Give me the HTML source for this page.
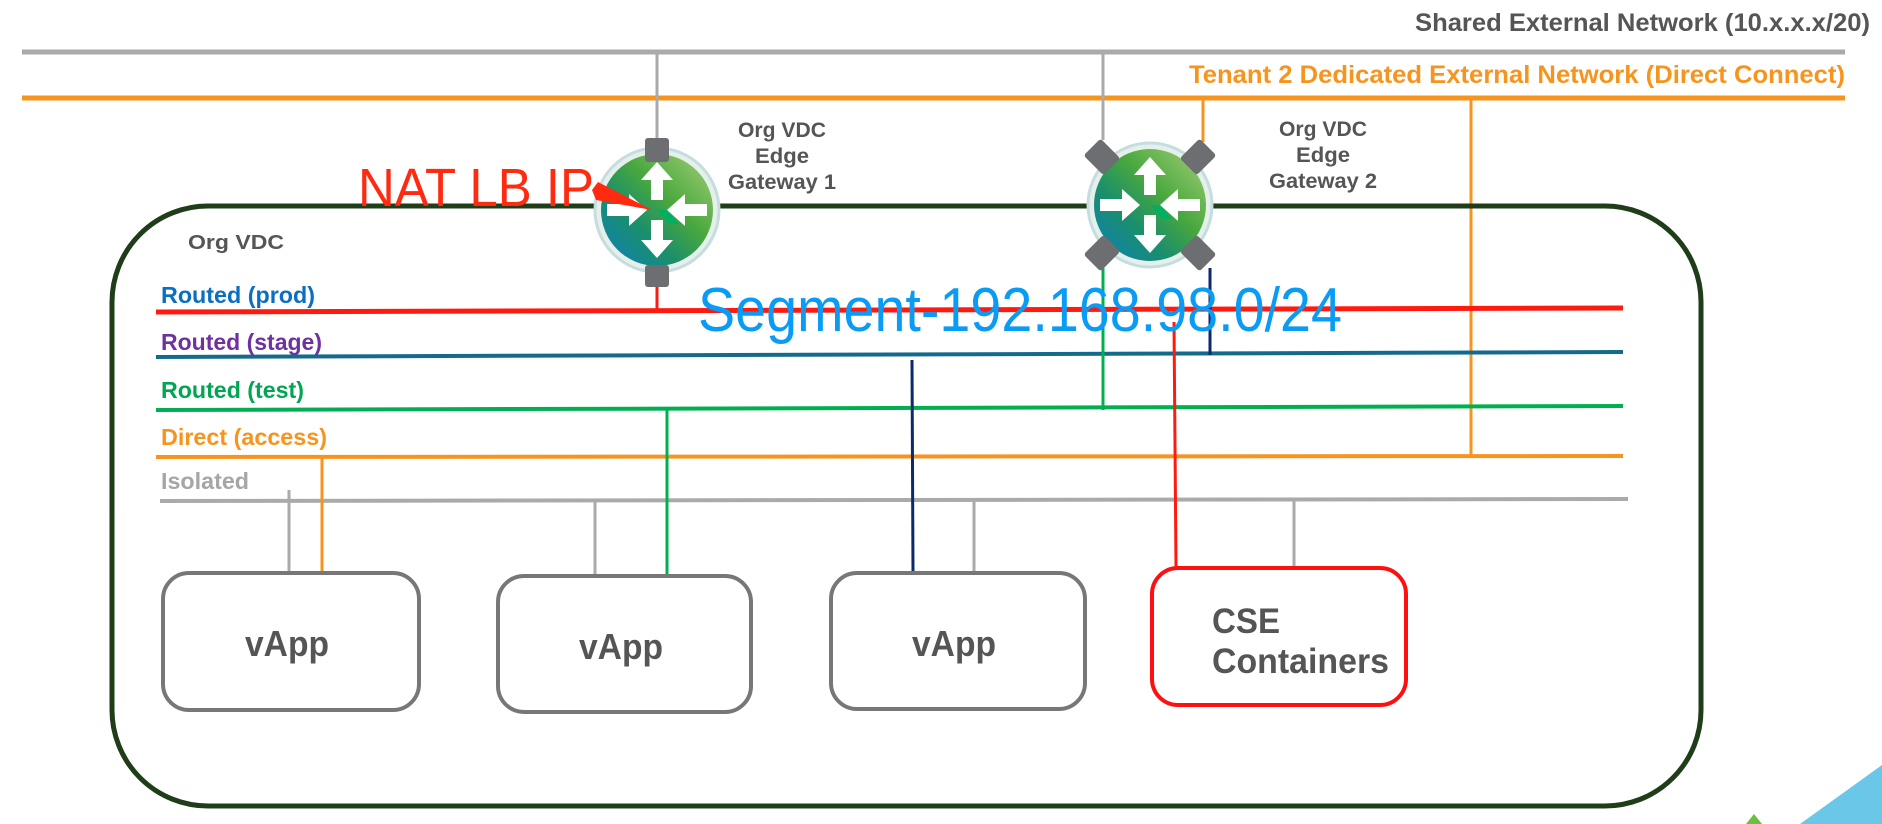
<!DOCTYPE html>
<html><head><meta charset="utf-8"><style>
html,body{margin:0;padding:0;background:#fff;}
svg{display:block;}
text{font-family:"Liberation Sans",Arial,sans-serif;}
</style></head><body>
<svg width="1882" height="824" viewBox="0 0 1882 824" xmlns="http://www.w3.org/2000/svg">
<defs>
<linearGradient id="rg" x1="0" y1="1" x2="1" y2="0">
<stop offset="0" stop-color="#0a7fc0"/><stop offset="0.35" stop-color="#1b8f6a"/><stop offset="0.6" stop-color="#4aa83e"/><stop offset="1" stop-color="#a6d07a"/>
</linearGradient>
<g id="arrows">
<circle r="62" fill="#e6f0ea" stroke="#c5dde0" stroke-width="3"/>
<circle r="56" fill="url(#rg)"/>
<path d="M0,-48 L-16,-30 L-6,-30 L-6,-10 L6,-10 L6,-30 L16,-30Z" fill="#fff"/>
<path d="M0,48 L-16,30 L-6,30 L-6,10 L6,10 L6,30 L16,30Z" fill="#fff"/>
<path d="M10,0 L28,-16 L28,-6 L50,-6 L50,6 L28,6 L28,16Z" fill="#fff"/>
<path d="M-10,0 L-28,-16 L-28,-6 L-50,-6 L-50,6 L-28,6 L-28,16Z" fill="#fff"/>
<path d="M0,0 L10,0 L22,14 L12,14Z" fill="#00b060"/>
</g>
</defs>

<text x="1870" y="31" font-size="25" font-weight="bold" fill="#555" text-anchor="end" textLength="455" lengthAdjust="spacingAndGlyphs">Shared External Network (10.x.x.x/20)</text>
<line x1="22" y1="52" x2="1845" y2="52" stroke="#aaa" stroke-width="5"/>
<text x="1845" y="83" font-size="25" font-weight="bold" fill="#f7941d" text-anchor="end" textLength="656" lengthAdjust="spacingAndGlyphs">Tenant 2 Dedicated External Network (Direct Connect)</text>
<line x1="22" y1="98" x2="1845" y2="98" stroke="#f7941d" stroke-width="5"/>

<line x1="657" y1="52" x2="657" y2="140" stroke="#aaa" stroke-width="3"/>
<line x1="1103" y1="52" x2="1103" y2="140" stroke="#aaa" stroke-width="3"/>
<line x1="1203" y1="98" x2="1203" y2="142" stroke="#f7941d" stroke-width="3"/>
<line x1="1471" y1="98" x2="1471" y2="457" stroke="#f7941d" stroke-width="3"/>

<rect x="112" y="206" width="1589" height="600" rx="96" ry="96" fill="none" stroke="#1e3d18" stroke-width="5"/>
<text x="188" y="249" font-size="20" font-weight="bold" fill="#555" textLength="96" lengthAdjust="spacingAndGlyphs">Org VDC</text>

<text x="161" y="303" font-size="23" font-weight="bold" fill="#0a6fc2" textLength="154" lengthAdjust="spacingAndGlyphs">Routed (prod)</text>
<line x1="156" y1="312" x2="1623" y2="308" stroke="#ff1a10" stroke-width="5"/>
<text x="161" y="350" font-size="23" font-weight="bold" fill="#7030a0" textLength="161" lengthAdjust="spacingAndGlyphs">Routed (stage)</text>
<line x1="156" y1="357" x2="1623" y2="352" stroke="#146a8c" stroke-width="4"/>
<text x="161" y="398" font-size="23" font-weight="bold" fill="#00a651" textLength="143" lengthAdjust="spacingAndGlyphs">Routed (test)</text>
<line x1="156" y1="410" x2="1623" y2="406" stroke="#00b050" stroke-width="4"/>
<text x="161" y="445" font-size="23" font-weight="bold" fill="#f7941d" textLength="166" lengthAdjust="spacingAndGlyphs">Direct (access)</text>
<line x1="156" y1="457" x2="1623" y2="456" stroke="#f7941d" stroke-width="4"/>
<text x="161" y="489" font-size="23" font-weight="bold" fill="#a6a6a6" textLength="88" lengthAdjust="spacingAndGlyphs">Isolated</text>
<line x1="160" y1="501" x2="1628" y2="499" stroke="#aaa" stroke-width="4"/>

<line x1="657" y1="276" x2="657" y2="311" stroke="#ff1a10" stroke-width="3"/>
<line x1="1103" y1="268" x2="1103" y2="410" stroke="#00b050" stroke-width="3"/>
<line x1="1210" y1="268" x2="1210" y2="355" stroke="#0b2a6b" stroke-width="3"/>
<line x1="1174" y1="322" x2="1176" y2="567" stroke="#ff1a10" stroke-width="3"/>
<line x1="912" y1="360" x2="913" y2="572" stroke="#0b2a6b" stroke-width="3"/>
<line x1="667" y1="409" x2="667" y2="575" stroke="#00b050" stroke-width="3"/>
<line x1="322" y1="457" x2="322" y2="572" stroke="#f7941d" stroke-width="3"/>
<line x1="289" y1="490" x2="289" y2="572" stroke="#aaa" stroke-width="3"/>
<line x1="595" y1="500" x2="595" y2="575" stroke="#aaa" stroke-width="3"/>
<line x1="974" y1="500" x2="974" y2="572" stroke="#aaa" stroke-width="3"/>
<line x1="1294" y1="499" x2="1294" y2="568" stroke="#aaa" stroke-width="3"/>

<g transform="translate(657,210)">
<use href="#arrows"/>
<rect x="-12" y="-72" width="24" height="24" rx="3" fill="#6d6e71"/>
<rect x="-12" y="55" width="24" height="22" rx="3" fill="#6d6e71"/>
</g>
<g transform="translate(1150,205)">
<use href="#arrows"/>
<rect x="-12" y="-14" width="24" height="28" rx="3" fill="#6d6e71" transform="rotate(45) translate(0,-68)"/>
<rect x="-12" y="-14" width="24" height="28" rx="3" fill="#6d6e71" transform="rotate(-45) translate(0,-68)"/>
<rect x="-12" y="-14" width="24" height="28" rx="3" fill="#6d6e71" transform="rotate(45) translate(0,68)"/>
<rect x="-12" y="-14" width="24" height="28" rx="3" fill="#6d6e71" transform="rotate(-45) translate(0,68)"/>
</g>

<text x="782" y="137" font-size="21" font-weight="bold" fill="#555" text-anchor="middle" textLength="88" lengthAdjust="spacingAndGlyphs">Org VDC</text>
<text x="782" y="163" font-size="21" font-weight="bold" fill="#555" text-anchor="middle" textLength="54" lengthAdjust="spacingAndGlyphs">Edge</text>
<text x="782" y="189" font-size="21" font-weight="bold" fill="#555" text-anchor="middle" textLength="108" lengthAdjust="spacingAndGlyphs">Gateway 1</text>
<text x="1323" y="136" font-size="21" font-weight="bold" fill="#555" text-anchor="middle" textLength="88" lengthAdjust="spacingAndGlyphs">Org VDC</text>
<text x="1323" y="162" font-size="21" font-weight="bold" fill="#555" text-anchor="middle" textLength="54" lengthAdjust="spacingAndGlyphs">Edge</text>
<text x="1323" y="188" font-size="21" font-weight="bold" fill="#555" text-anchor="middle" textLength="108" lengthAdjust="spacingAndGlyphs">Gateway 2</text>

<text x="358" y="206" font-size="54" fill="#ff2a10" textLength="236" lengthAdjust="spacingAndGlyphs">NAT LB IP</text>
<polygon points="592,190 598,182 652,210 596,200" fill="#ff2a10"/>

<text x="698" y="331" font-size="62" fill="#0a9cf5" textLength="644" lengthAdjust="spacingAndGlyphs">Segment-192.168.98.0/24</text>

<rect x="163" y="573" width="256" height="137" rx="26" fill="#fff" stroke="#777" stroke-width="4"/>
<text x="287" y="656" font-size="36" font-weight="bold" fill="#555" text-anchor="middle" textLength="84" lengthAdjust="spacingAndGlyphs">vApp</text>
<rect x="498" y="576" width="253" height="136" rx="26" fill="#fff" stroke="#777" stroke-width="4"/>
<text x="621" y="659" font-size="36" font-weight="bold" fill="#555" text-anchor="middle" textLength="84" lengthAdjust="spacingAndGlyphs">vApp</text>
<rect x="831" y="573" width="254" height="136" rx="26" fill="#fff" stroke="#777" stroke-width="4"/>
<text x="954" y="656" font-size="36" font-weight="bold" fill="#555" text-anchor="middle" textLength="84" lengthAdjust="spacingAndGlyphs">vApp</text>
<rect x="1152" y="568" width="254" height="137" rx="26" fill="#fff" stroke="#ff1010" stroke-width="4"/>
<text x="1212" y="633" font-size="35" font-weight="bold" fill="#555" textLength="68" lengthAdjust="spacingAndGlyphs">CSE</text>
<text x="1212" y="673" font-size="35" font-weight="bold" fill="#555" textLength="177" lengthAdjust="spacingAndGlyphs">Containers</text>

<polygon points="1800,824 1882,765 1882,824" fill="#6bc7e8"/>
<polygon points="1746,824 1754,814 1762,824" fill="#6cbf3f"/>
</svg>
</body></html>
